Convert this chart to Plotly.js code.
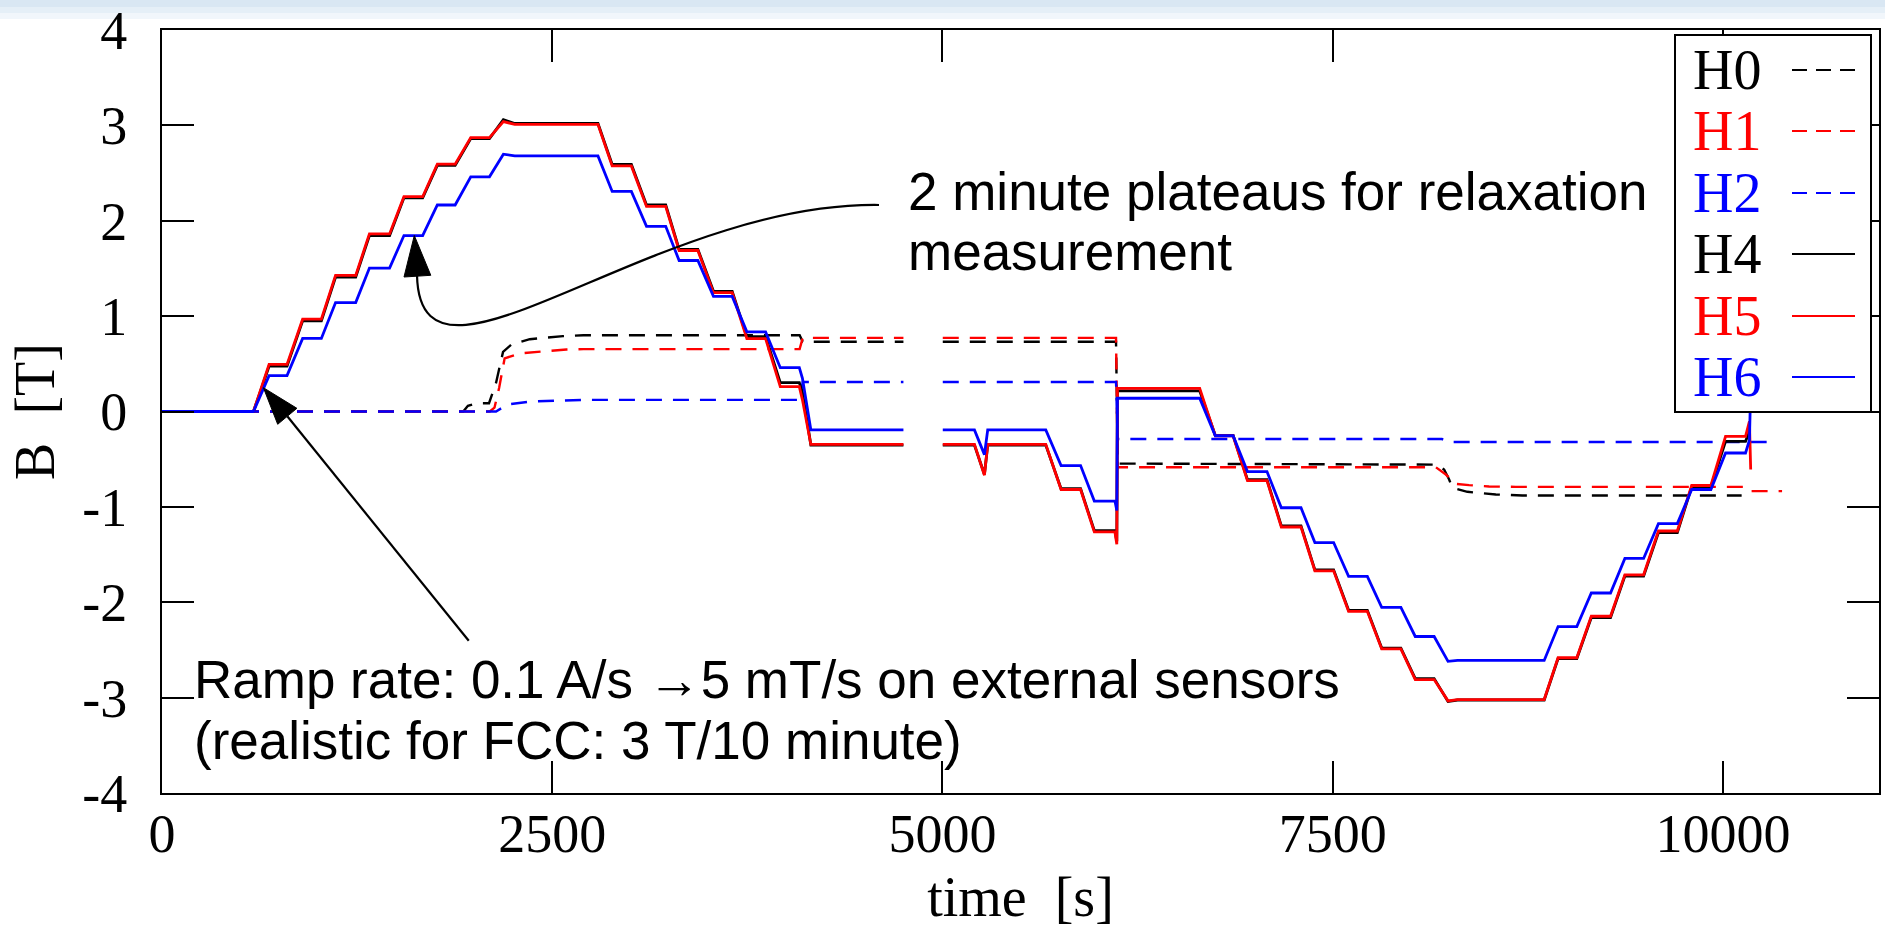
<!DOCTYPE html>
<html><head><meta charset="utf-8">
<script src="https://cdn.plot.ly/plotly-3.0.1.min.js"></script>
<style>html,body{margin:0;padding:0;background:#fff;} #chart{width:1885px;height:931px;}</style>
</head><body><div id="chart"></div>
<script>
// ---------- data ----------
// shared time base of the solid (internal Hall sensor) curves, s
const tSolid = [0, 586, 686, 801, 901, 1021, 1112, 1241, 1329, 1458, 1550, 1670, 1764, 1878, 1978, 2098, 2187, 2260, 2793, 2884, 3007, 3104, 3227, 3313, 3433, 3533, 3653, 3747, 3867, 3961, 4083, 4103, 4157, 4750, 4876, 5002, 5205, 5269, 5290, 5662, 5760, 5885, 5973, 6105, 6117, 6121, 6648, 6748, 6862, 6954, 7079, 7171, 7297, 7386, 7506, 7602, 7722, 7814, 7937, 8029, 8150, 8239, 8300, 8855, 8944, 9064, 9157, 9280, 9372, 9492, 9587, 9708, 9800, 9923, 10017, 10145, 10170, 10178];
const bH4 = [0, 0, 0.475, 0.475, 0.950, 0.950, 1.410, 1.410, 1.845, 1.845, 2.240, 2.240, 2.580, 2.580, 2.862, 2.862, 3.06, 3.02, 3.02, 2.59, 2.59, 2.165, 2.165, 1.70, 1.70, 1.26, 1.26, 0.785, 0.785, 0.303, 0.303, 0.20, -0.352, -0.352, null, -0.352, -0.352, -0.66, -0.352, -0.352, -0.81, -0.81, -1.25, -1.25, -1.36, 0.216, 0.216, -0.25, -0.25, -0.715, -0.715, -1.20, -1.20, -1.66, -1.66, -2.085, -2.085, -2.48, -2.48, -2.80, -2.80, -3.04, -3.025, -3.025, -2.59, -2.59, -2.16, -2.16, -1.725, -1.725, -1.27, -1.27, -0.79, -0.79, -0.313, -0.313, -0.21, -0.21];
const bH5 = [0, 0, 0.494, 0.494, 0.968, 0.968, 1.427, 1.427, 1.862, 1.862, 2.252, 2.252, 2.593, 2.593, 2.872, 2.872, 3.04, 3.01, 3.01, 2.575, 2.575, 2.150, 2.150, 1.688, 1.688, 1.246, 1.246, 0.765, 0.765, 0.261, 0.261, 0.122, -0.345, -0.345, null, -0.345, -0.345, -0.668, -0.345, -0.345, -0.818, -0.818, -1.263, -1.263, -1.392, 0.243, 0.243, -0.254, -0.254, -0.725, -0.725, -1.211, -1.211, -1.670, -1.670, -2.095, -2.095, -2.488, -2.488, -2.811, -2.811, -3.034, -3.02, -3.02, -2.582, -2.582, -2.147, -2.147, -1.712, -1.712, -1.253, -1.253, -0.776, -0.776, -0.261, -0.261, -0.104, -0.609];
const bH6 = [0, 0, 0.376, 0.376, 0.766, 0.766, 1.142, 1.142, 1.504, 1.504, 1.845, 1.845, 2.165, 2.165, 2.461, 2.461, 2.698, 2.68, 2.68, 2.307, 2.307, 1.942, 1.942, 1.583, 1.583, 1.207, 1.207, 0.835, 0.835, 0.459, 0.459, 0.348, -0.193, -0.193, null, -0.193, -0.193, -0.452, -0.193, -0.193, -0.567, -0.567, -0.939, -0.939, -1.037, 0.139, 0.139, -0.254, -0.254, -0.630, -0.630, -1.009, -1.009, -1.374, -1.374, -1.729, -1.729, -2.053, -2.053, -2.359, -2.359, -2.620, -2.61, -2.61, -2.255, -2.255, -1.903, -1.903, -1.541, -1.541, -1.176, -1.176, -0.818, -0.818, -0.435, -0.435, -0.30, 0.25];

// dashed (external sensor) curves
const tH0 = [0, 1930, 1960, 2015, 2095, 2140, 2185, 2239, 2356, 2569, 2700, 4085, 4105, 4750, 4876, 5002, 6112, 6123, 8161, 8214, 8246, 8267, 8363, 8545, 8715, 10120];
const bH0 = [0, 0, 0.06, 0.087, 0.087, 0.30, 0.626, 0.703, 0.758, 0.79, 0.80, 0.80, 0.731, 0.731, null, 0.731, 0.731, -0.546, -0.557, -0.609, -0.713, -0.80, -0.842, -0.87, -0.88, -0.88];
const tH1 = [0, 2100, 2130, 2160, 2195, 2292, 2463, 2591, 2700, 4085, 4105, 4750, 4876, 5002, 6112, 6123, 8161, 8225, 8288, 8374, 8502, 8673, 10141, 10160, 10379];
const bH1 = [0, 0, 0.04, 0.25, 0.557, 0.609, 0.633, 0.65, 0.654, 0.654, 0.772, 0.772, null, 0.772, 0.772, -0.585, -0.585, -0.661, -0.759, -0.772, -0.786, -0.79, -0.79, -0.835, -0.835];
const tH2 = [0, 2140, 2175, 2228, 2356, 2569, 2700, 4085, 4105, 4750, 4876, 5002, 6112, 6123, 8200, 8240, 10305];
const bH2 = [0, 0, 0.035, 0.077, 0.104, 0.118, 0.122, 0.122, 0.31, 0.31, null, 0.31, 0.31, -0.289, -0.289, -0.32, -0.32];

const seriesNames = ['H0', 'H1', 'H2', 'H4', 'H5', 'H6'];
const xTickVals = [0, 2500, 5000, 7500, 10000];
const xTickText = ['0', '2500', '5000', '7500', '10000'];
const yTickVals = [-4, -3, -2, -1, 0, 1, 2, 3, 4];
const yTickText = ['-4', '-3', '-2', '-1', '0', '1', '2', '3', '4'];
const noteTop = ['2 minute plateaus for relaxation', 'measurement'];
const noteBottom = ['Ramp rate: 0.1 A/s \u21925 mT/s on external sensors', '(realistic for FCC: 3 T/10 minute)'];

// ---------- styling ----------
const COLORS = {H0: '#000000', H1: '#ff0000', H2: '#0000ff', H4: '#000000', H5: '#ff0000', H6: '#0000ff'};
const DASH = '16px,11px';
const SERIF = 'Liberation Serif, Times New Roman, serif';
const SANS = 'Liberation Sans, Arial, sans-serif';

function tr(name, x, y, dashed) {
  return {type: 'scatter', mode: 'lines', name: name, x: x, y: y,
    line: {color: COLORS[name], width: dashed ? 2.4 : 2.8, dash: dashed ? DASH : 'solid'},
    connectgaps: false, showlegend: false, hoverinfo: 'skip'};
}
const data = [
  tr('H0', tH0, bH0, true), tr('H1', tH1, bH1, true), tr('H2', tH2, bH2, true),
  tr('H4', tSolid, bH4, false), tr('H5', tSolid, bH5, false), tr('H6', tSolid, bH6, false)
];

// pixel -> paper helpers (plot area: x 162..1879, y 30..793)
const L = 162, R = 1879, T = 30, B = 793;
const px = v => (v - L) / (R - L);
const py = v => (B - v) / (B - T);

const shapes = [];
const annotations = [];

// faint slide header band
[[0, 7, '#d9e7f3'], [7, 13, '#e5eff7'], [13, 19, '#f1f6fb']].forEach(b => {
  shapes.push({type: 'rect', xref: 'paper', yref: 'paper', x0: px(0), x1: px(1885), y0: py(b[1]), y1: py(b[0]),
    fillcolor: b[2], line: {width: 0}, layer: 'below'});
});

// curved arrow to a plateau
const P = [[879, 205], [650, 202], [420, 421], [417, 275]];
shapes.push({type: 'path', xref: 'paper', yref: 'paper', layer: 'above',
  path: `M ${px(P[0][0])} ${py(P[0][1])} C ${px(P[1][0])} ${py(P[1][1])}, ${px(P[2][0])} ${py(P[2][1])}, ${px(P[3][0])} ${py(P[3][1])}`,
  line: {color: '#000', width: 2.2}});
shapes.push({type: 'path', xref: 'paper', yref: 'paper', layer: 'above',
  path: `M ${px(404)} ${py(277)} L ${px(414.3)} ${py(235.5)} L ${px(430.8)} ${py(275.3)} Z`,
  fillcolor: '#000', line: {color: '#000', width: 1}});

// straight arrow to the ramp start
shapes.push({type: 'line', xref: 'paper', yref: 'paper', layer: 'above',
  x0: px(468.75), y0: py(640.7), x1: px(287.3), y1: py(416.3), line: {color: '#000', width: 2.2}});
shapes.push({type: 'path', xref: 'paper', yref: 'paper', layer: 'above',
  path: `M ${px(277.7)} ${py(424.3)} L ${px(263.4)} ${py(387.7)} L ${px(296.9)} ${py(408.3)} Z`,
  fillcolor: '#000', line: {color: '#000', width: 1}});

// text notes
annotations.push({xref: 'paper', yref: 'paper', x: px(906), y: py(192), xanchor: 'left', yanchor: 'middle',
  text: noteTop[0], showarrow: false, font: {family: SANS, size: 53, color: '#000'}});
annotations.push({xref: 'paper', yref: 'paper', x: px(906), y: py(252), xanchor: 'left', yanchor: 'middle',
  text: noteTop[1], showarrow: false, font: {family: SANS, size: 53, color: '#000'}});
annotations.push({xref: 'paper', yref: 'paper', x: px(192), y: py(679), xanchor: 'left', yanchor: 'middle',
  text: noteBottom[0], showarrow: false, font: {family: SANS, size: 53, color: '#000'}});
annotations.push({xref: 'paper', yref: 'paper', x: px(192), y: py(740), xanchor: 'left', yanchor: 'middle',
  text: noteBottom[1], showarrow: false, font: {family: SANS, size: 53, color: '#000'}});

// key box (gnuplot style: label, then line sample)
shapes.push({type: 'rect', xref: 'paper', yref: 'paper', layer: 'above',
  x0: px(1675), x1: px(1871), y0: py(412), y1: py(35), fillcolor: '#fff', line: {color: '#000', width: 2}});
const keyRows = [70, 131, 193, 254, 316, 377];
seriesNames.forEach((n, i) => {
  const dashed = i < 3;
  annotations.push({xref: 'paper', yref: 'paper', x: px(1691), y: py(keyRows[i]), xanchor: 'left', yanchor: 'middle',
    text: n, showarrow: false, font: {family: SERIF, size: 56, color: COLORS[n]}});
  shapes.push({type: 'line', xref: 'paper', yref: 'paper', layer: 'above',
    x0: px(1792), x1: px(1855), y0: py(keyRows[i]), y1: py(keyRows[i]),
    line: {color: COLORS[n], width: 2.2, dash: dashed ? '15px,9px' : 'solid'}});
});

const axisCommon = {
  ticks: 'inside', ticklen: 32, tickwidth: 2, tickcolor: '#000',
  showline: true, linecolor: '#000', linewidth: 2, mirror: 'ticks',
  showgrid: false, zeroline: false, tickmode: 'array', ticklabeloverflow: 'allow',
  tickfont: {family: SERIF, size: 54, color: '#000'}
};

const layout = {
  width: 1885, height: 931,
  margin: {l: L, r: 1885 - R, t: T, b: 931 - B, pad: 0},
  paper_bgcolor: '#fff', plot_bgcolor: '#fff',
  showlegend: false,
  xaxis: Object.assign({}, axisCommon, {
    range: [0, 11000], tickvals: xTickVals, ticktext: xTickText, ticklabelstandoff: -8,
    title: {text: 'time\u00a0\u00a0[s]', font: {family: SERIF, size: 56, color: '#000'}, standoff: 14}
  }),
  yaxis: Object.assign({}, axisCommon, {
    range: [-4, 4], tickvals: yTickVals, ticktext: yTickText, ticklabelstandoff: 22,
    title: {text: 'B\u00a0\u00a0[T]', font: {family: SERIF, size: 56, color: '#000'}, standoff: 10}
  }),
  shapes: shapes,
  annotations: annotations
};

Plotly.newPlot('chart', data, layout, {displayModeBar: false, responsive: false});
</script></body></html>
